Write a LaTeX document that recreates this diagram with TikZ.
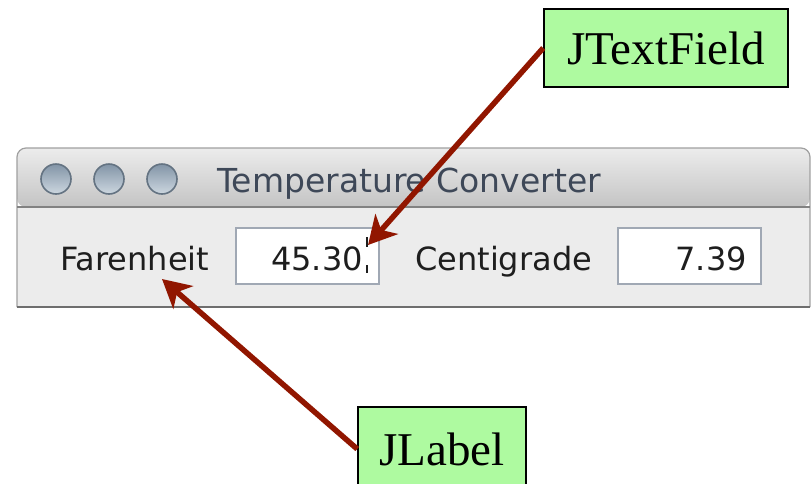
\documentclass[tikz,border=0pt]{standalone}
\usepackage{fontspec}
\setmainfont{Liberation Serif}
\newfontfamily\uifont{DejaVu Sans}
\usetikzlibrary{arrows.meta}

\definecolor{calloutgreen}{RGB}{174,250,160}
\definecolor{arrowred}{RGB}{145,22,0}
\definecolor{winbody}{RGB}{236,236,236}
\definecolor{winedge}{RGB}{160,160,160}
\definecolor{titletop}{RGB}{236,236,236}
\definecolor{titlebottom}{RGB}{196,196,196}
\definecolor{titleline}{RGB}{130,130,130}
\definecolor{winbottom}{RGB}{110,110,110}
\definecolor{titletext}{RGB}{62,72,88}
\definecolor{fieldedge}{RGB}{160,168,180}
\definecolor{uitext}{RGB}{30,30,30}
\definecolor{btnedge}{RGB}{100,115,130}
\definecolor{btntop}{RGB}{130,148,166}
\definecolor{btnbottom}{RGB}{205,215,224}

\tikzset{
  callout/.style={draw=black, line width=1.6pt, fill=calloutgreen,
    inner sep=0pt, font=\fontsize{47}{50}\selectfont},
  pointer/.style={draw=arrowred, line width=5.5pt,
    -{Stealth[length=28pt,width=30pt,inset=8pt]}},
  uilabel/.style={inner sep=0pt, text=uitext, font=\uifont\fontsize{32}{34}\selectfont},
  field/.style={draw=fieldedge, line width=1.5pt, fill=white},
  lightbtn/.style={draw=btnedge, line width=1.6pt, circle, minimum size=30pt, inner sep=0pt,
    top color=btntop, bottom color=btnbottom},
}

\begin{document}
\begin{tikzpicture}[x=1pt,y=-1pt]
\useasboundingbox (0,0) rectangle (811,483);
\begin{scope}
\clip (0,0) rectangle (811,483);

% window body
\fill[winbody] (17,207) rectangle (810,307);
% title bar with rounded top corners
\shade[top color=titletop, bottom color=titlebottom, rounded corners=9pt]
  (17,207) -- (17,148) -- (810,148) -- (810,207) -- cycle;
\draw[winedge, line width=1.2pt, rounded corners=9pt]
  (17,307) -- (17,148) -- (810,148) -- (810,307);
\draw[titleline, line width=1.5pt] (17,207) -- (810,207);
\draw[winbottom, line width=1.6pt] (17,307) -- (810,307);

% window buttons
\node[lightbtn] (btnA) at (56,179) {};
\node[lightbtn] (btnB) at (109,179) {};
\node[lightbtn] (btnC) at (162,179) {};

% window title
\node[uilabel, text=titletext, anchor=base west, font=\uifont\fontsize{33}{35}\selectfont]
  (title) at (217,192) {Temperature Converter};

% labels and text fields
\node[uilabel, anchor=base west] (far) at (60,270) {Farenheit};
\draw[field] (236,228) rectangle (379,284);
\node[uilabel, anchor=base east] (farval) at (363,270) {45.30};
\draw[uitext, line width=1.3pt] (367,237) -- (367,247) (367,265) -- (367,273);

\node[uilabel, anchor=base west] (cen) at (415,270) {Centigrade};
\draw[field] (618,228) rectangle (761,284);
\node[uilabel, anchor=base east] (cenval) at (747,270) {7.39};

% callouts
\node[callout, minimum width=244pt, minimum height=78pt] (tf) at (666,48) {JTextField};
\node[callout, minimum width=168pt, minimum height=84pt] (jl) at (442,449) {JLabel};

\coordinate (tfTip) at (368,245);
\coordinate (jlTip) at (162,279);
\draw[pointer] (tf.west) -- (tfTip);
\draw[pointer] (jl.west) -- (jlTip);
\end{scope}
\end{tikzpicture}
\end{document}
